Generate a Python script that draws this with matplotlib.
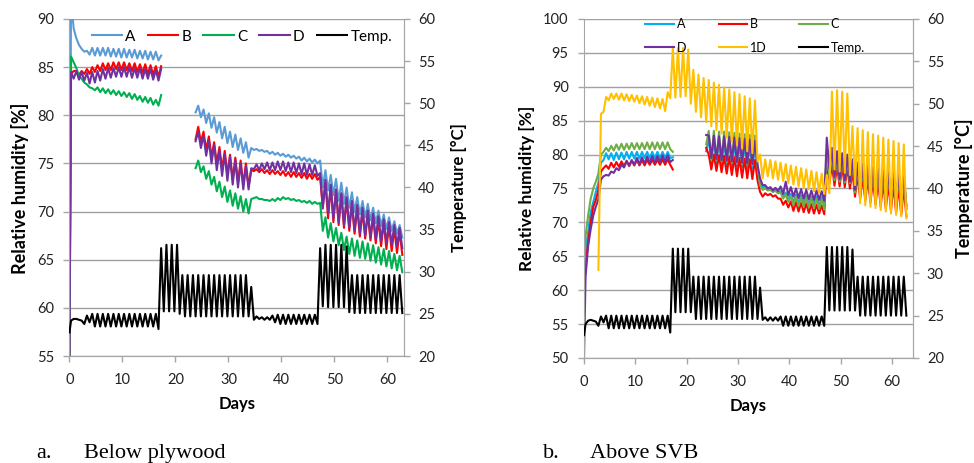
import numpy as np
import matplotlib.pyplot as plt

plt.rcParams['font.family'] = ['Lato', 'DejaVu Sans']

nan = np.nan
days = np.arange(63)   # daily max is plotted at day+0.3, daily min at day+0.8

# ---- a. Below plywood : relative humidity [%] (daily max / min) ----
la_hi = [92.0, 88.0, 86.9, 86.7, 87.0, 87.0, 87.0, 87.0, 86.9, 86.9,
         86.9, 86.8, 86.8, 86.7, 86.7, 86.6, 86.6, 86.2, nan, nan,
         nan, nan, nan, nan, 81.0, 80.6, 80.2, 79.8, 79.3, 78.8,
         78.3, 78.0, 77.6, 77.2, 76.6, 76.5, 76.4, 76.3, 76.2, 76.1,
         76.0, 75.9, 75.8, 75.7, 75.6, 75.5, 75.4, 75.3, 74.3, 73.8,
         73.4, 73.0, 72.5, 72.0, 71.5, 71.1, 70.8, 70.4, 70.1, 69.7,
         69.4, 69.0, 68.6]
la_lo = [89.0, 87.3, 86.6, 86.3, 86.2, 86.2, 86.2, 86.1, 86.1, 86.0,
         86.0, 86.0, 85.9, 85.9, 85.8, 85.8, 85.7, nan, nan, nan,
         nan, nan, nan, 80.3, 79.8, 79.2, 78.7, 78.2, 77.6, 77.1,
         76.7, 76.4, 76.1, 75.6, 76.4, 76.3, 76.2, 76.0, 75.9, 75.8,
         75.7, 75.6, 75.5, 75.3, 75.2, 75.1, 75.0, 72.5, 72.2, 71.7,
         71.1, 70.8, 70.4, 70.0, 69.7, 69.4, 69.1, 68.8, 68.5, 68.2,
         68.0, 67.7, 67.3]
lb_hi = [84.3, 84.6, 84.6, 84.8, 85.0, 85.2, 85.4, 85.4, 85.5, 85.5,
         85.5, 85.4, 85.4, 85.3, 85.3, 85.2, 85.1, 85.1, nan, nan,
         nan, nan, nan, nan, 78.8, 78.3, 77.8, 77.2, 76.7, 76.3,
         75.9, 75.6, 75.3, 75.0, 74.3, 74.4, 74.4, 74.3, 74.3, 74.2,
         74.2, 74.1, 74.1, 74.0, 74.0, 73.9, 73.9, 73.6, 73.0, 72.6,
         72.2, 71.8, 71.3, 70.8, 70.4, 70.1, 69.8, 69.5, 69.2, 68.9,
         68.6, 68.3, 68.0]
lb_lo = [84.6, 84.2, 84.3, 84.3, 84.5, 84.6, 84.7, 84.7, 84.8, 84.7,
         84.7, 84.6, 84.5, 84.4, 84.3, 84.2, 84.0, nan, nan, nan,
         nan, nan, nan, 77.5, 77.2, 76.4, 75.7, 75.0, 74.4, 73.8,
         73.3, 73.0, 72.8, 72.6, 74.2, 74.1, 74.0, 73.9, 73.9, 73.8,
         73.7, 73.6, 73.6, 73.5, 73.4, 73.4, 73.3, 70.5, 69.3, 68.9,
         68.6, 68.3, 68.0, 67.7, 67.4, 67.2, 67.0, 66.7, 66.4, 66.1,
         65.9, 65.7, 65.5]
lc_hi = [86.1, 84.9, 83.8, 83.2, 82.8, 82.9, 82.8, 82.7, 82.6, 82.5,
         82.4, 82.3, 82.2, 82.0, 81.9, 81.8, 81.6, 82.1, nan, nan,
         nan, nan, nan, nan, 75.3, 74.7, 74.2, 73.6, 73.1, 72.6,
         72.2, 71.9, 71.6, 71.3, 71.3, 71.5, 71.3, 71.2, 71.3, 71.4,
         71.5, 71.4, 71.3, 71.2, 71.1, 71.1, 71.0, 70.9, 69.4, 68.8,
         68.3, 67.8, 67.4, 67.2, 67.0, 66.9, 66.7, 66.5, 66.3, 66.1,
         65.9, 65.6, 65.4]
lc_lo = [85.5, 84.1, 83.4, 82.9, 82.6, 82.4, 82.3, 82.2, 82.1, 82.0,
         81.9, 81.7, 81.6, 81.4, 81.3, 81.1, 81.0, nan, nan, nan,
         nan, nan, nan, 74.5, 74.1, 73.4, 72.8, 72.1, 71.5, 71.0,
         70.6, 70.3, 70.0, 69.8, 71.4, 71.3, 71.2, 71.1, 71.1, 71.2,
         71.3, 71.2, 71.1, 71.0, 70.9, 70.8, 70.8, 68.0, 67.3, 66.9,
         66.5, 66.0, 65.6, 65.4, 65.2, 65.1, 64.9, 64.7, 64.5, 64.3,
         64.1, 63.9, 63.7]
ld_hi = [84.5, 84.6, 84.5, 84.4, 84.5, 84.6, 84.8, 84.9, 84.9, 85.0,
         85.0, 85.0, 84.9, 84.9, 84.8, 84.8, 84.7, 84.8, nan, nan,
         nan, nan, nan, nan, 78.3, 77.9, 77.4, 76.9, 76.4, 76.0,
         75.7, 75.3, 75.0, 74.7, 74.5, 74.9, 75.0, 75.1, 75.1, 75.2,
         75.2, 75.1, 75.1, 75.0, 75.0, 74.9, 74.8, 74.0, 73.3, 72.8,
         72.3, 71.9, 71.5, 71.1, 70.7, 70.4, 70.1, 69.8, 69.5, 69.2,
         68.9, 68.6, 68.3]
ld_lo = [83.8, 83.7, 83.6, 83.3, 83.4, 83.6, 83.8, 83.9, 84.0, 84.0,
         84.0, 83.9, 83.9, 83.8, 83.8, 83.7, 83.6, nan, nan, nan,
         nan, nan, nan, 77.3, 76.6, 75.8, 75.0, 74.3, 73.7, 73.2,
         72.8, 72.5, 72.3, 72.3, 74.4, 74.3, 74.4, 74.3, 74.3, 74.3,
         74.2, 74.1, 74.0, 73.9, 73.8, 73.8, 73.7, 70.3, 69.8, 69.3,
         68.9, 68.6, 68.3, 68.0, 67.7, 67.5, 67.3, 67.1, 66.9, 66.7,
         66.5, 66.4, 66.2]
# temperature [C]
lt_hi = ([24.2, 24.4, 24.2, 24.8] + [25.0] * 13 + [32.8, 33.2, 33.2, 33.2]
         + [29.6] * 13 + [28.2] + [24.7, 24.6, 24.6, 24.8] + [24.9] * 8
         + [32.8] + [33.2] * 4 + [33.0] + [29.6] * 10)
lt_lo = ([24.4, 24.3, 23.8, 24.0] + [23.5] * 12 + [23.2] + [25.3, 25.3, 25.3, 25.0]
         + [24.7] * 13 + [24.3] + [24.4, 24.3, 24.3, 24.0] + [23.8] * 8
         + [25.9] + [25.8] * 4 + [25.2] + [25.1] * 10)
left_start = {'A': 55.0, 'B': 55.0, 'C': 55.0, 'D': 55.0, 'Temp.': 22.8}

# ---- b. Above SVB ----
ra_hi = [66.0, 71.5, 74.5, 78.8, 80.2, 80.2, 80.3, 80.3, 80.4, 80.4,
         80.4, 80.4, 80.4, 80.4, 80.4, 80.4, 80.4, 79.6, nan, nan,
         nan, nan, nan, nan, 82.3, 82.2, 82.1, 82.0, 81.9, 81.8,
         81.7, 81.6, 81.5, 81.3, 76.0, 75.3, 74.9, 74.7, 74.6, 74.4,
         74.2, 74.1, 74.0, 73.9, 73.8, 73.8, 73.7, 80.5, 80.0, 79.8,
         79.6, 79.5, 79.0, 78.5, 78.3, 78.1, 77.9, 77.8, 77.6, 77.5,
         77.3, 77.2, 77.0]
ra_lo = [68.5, 73.0, 75.8, 79.2, 79.3, 79.2, 79.3, 79.3, 79.4, 79.4,
         79.4, 79.5, 79.5, 79.5, 79.5, 79.5, 79.5, nan, nan, nan,
         nan, nan, nan, 80.5, 78.8, 78.6, 78.5, 78.4, 78.3, 78.2,
         78.1, 78.0, 77.9, 77.7, 75.2, 74.9, 74.5, 74.3, 73.8, 73.3,
         72.9, 72.8, 72.7, 72.6, 72.5, 72.4, 72.3, 77.0, 76.2, 76.0,
         75.9, 75.8, 74.5, 73.9, 73.6, 73.4, 73.2, 73.0, 72.8, 72.6,
         72.4, 72.2, 72.0]
rb_hi = [64.0, 70.0, 73.3, 77.5, 78.4, 78.8, 78.9, 79.0, 79.1, 79.1,
         79.2, 79.2, 79.2, 79.2, 79.2, 79.3, 79.3, 77.8, nan, nan,
         nan, nan, nan, nan, 80.0, 80.0, 79.9, 79.8, 79.7, 79.6,
         79.5, 79.4, 79.3, 79.2, 74.5, 74.3, 74.2, 74.0, 73.5, 73.2,
         73.1, 73.0, 72.9, 72.8, 72.7, 72.6, 72.5, 79.0, 78.6, 78.4,
         78.3, 78.2, 77.5, 77.0, 76.8, 76.6, 76.4, 76.2, 76.0, 75.8,
         75.6, 75.4, 75.2]
rb_lo = [67.0, 72.3, 74.8, 78.0, 77.9, 78.1, 78.2, 78.3, 78.3, 78.4,
         78.4, 78.4, 78.5, 78.5, 78.5, 78.5, 78.5, nan, nan, nan,
         nan, nan, nan, 81.0, 77.8, 77.6, 77.4, 77.2, 77.0, 76.8,
         76.6, 76.5, 76.4, 76.2, 73.8, 74.0, 73.8, 73.5, 72.6, 72.2,
         71.7, 71.6, 71.5, 71.4, 71.3, 71.3, 71.2, 75.7, 75.4, 75.3,
         75.2, 75.0, 73.8, 73.5, 73.2, 72.9, 72.6, 72.3, 72.0, 71.7,
         71.4, 71.1, 70.9]
rc_hi = [68.0, 73.5, 76.0, 80.0, 81.0, 81.3, 81.5, 81.6, 81.6, 81.7,
         81.7, 81.7, 81.8, 81.8, 81.8, 81.8, 81.8, 80.4, nan, nan,
         nan, nan, nan, nan, 83.5, 83.5, 83.4, 83.4, 83.3, 83.2,
         83.1, 83.0, 82.9, 82.8, 75.5, 75.0, 74.8, 74.7, 74.4, 74.1,
         73.9, 73.8, 73.7, 73.7, 73.6, 73.5, 73.4, 80.3, 79.9, 79.7,
         79.5, 79.4, 78.8, 78.3, 78.1, 77.9, 77.7, 77.5, 77.3, 77.1,
         76.9, 76.7, 76.5]
rc_lo = [71.0, 75.0, 77.2, 80.4, 80.5, 80.6, 80.7, 80.7, 80.8, 80.8,
         80.8, 80.8, 80.8, 80.8, 80.8, 80.8, 80.8, nan, nan, nan,
         nan, nan, nan, 81.5, 79.2, 79.1, 79.0, 78.9, 78.8, 78.7,
         78.6, 78.5, 78.4, 78.2, 74.8, 74.7, 74.5, 74.3, 73.5, 73.0,
         72.5, 72.4, 72.3, 72.2, 72.1, 72.0, 71.9, 76.8, 76.2, 76.0,
         75.9, 75.8, 74.4, 74.0, 73.7, 73.5, 73.3, 73.1, 72.9, 72.7,
         72.5, 72.3, 72.0]
rd_hi = [62.0, 69.0, 72.3, 76.3, 77.0, 77.5, 78.0, 78.5, 79.0, 79.2,
         79.5, 79.6, 79.7, 79.8, 79.8, 79.9, 79.9, 79.2, nan, nan,
         nan, nan, nan, nan, 82.8, 82.8, 82.7, 82.7, 82.6, 82.5,
         82.4, 82.3, 82.2, 82.0, 76.5, 75.5, 75.2, 75.1, 75.3, 76.0,
         75.2, 75.0, 74.9, 74.8, 74.7, 74.7, 74.6, 82.5, 81.0, 80.5,
         80.2, 80.0, 79.3, 78.8, 78.6, 78.4, 78.2, 78.0, 77.8, 77.6,
         77.4, 77.2, 77.0]
rd_lo = [66.5, 71.0, 73.4, 76.8, 76.9, 77.3, 77.7, 78.1, 78.4, 78.5,
         78.6, 78.7, 78.8, 78.8, 78.9, 78.9, 78.9, nan, nan, nan,
         nan, nan, nan, 82.9, 79.5, 79.3, 79.2, 79.1, 79.0, 78.9,
         78.8, 78.7, 78.6, 78.5, 75.5, 75.0, 74.7, 74.6, 74.2, 74.0,
         73.8, 73.6, 73.5, 73.4, 73.3, 73.3, 73.2, 78.0, 76.7, 76.4,
         76.2, 76.0, 74.8, 74.4, 74.1, 73.9, 73.7, 73.5, 73.3, 73.1,
         72.9, 72.7, 72.5]
r1d_hi = [nan, nan, nan, 86.0, 88.5, 89.0, 89.0, 89.0, 88.9, 88.8,
          88.7, 88.6, 88.5, 88.4, 88.3, 88.2, 89.2, 95.7, 95.7, 95.7,
          95.5, 92.5, 91.8, 91.3, 91.0, 90.6, 90.3, 89.9, 89.6, 89.2,
          88.9, 88.6, 88.3, 88.0, 80.0, 79.3, 79.2, 79.0, 78.8, 78.6,
          78.4, 78.2, 78.0, 77.8, 77.6, 77.4, 77.2, 77.0, 89.3, 89.5,
          89.3, 89.0, 84.2, 83.9, 83.6, 83.3, 83.0, 82.8, 82.5, 82.2,
          82.0, 81.7, 81.5]
r1d_lo = [nan, nan, 63.0, 86.3, 88.0, 88.2, 88.1, 88.0, 87.9, 87.8,
          87.6, 87.4, 87.2, 87.0, 86.8, 86.4, 88.3, 88.4, 88.5, 88.6,
          87.5, 86.3, 85.5, 84.8, 84.2, 83.6, 83.1, 82.5, 81.9, 81.4,
          80.9, 80.5, 80.2, 79.0, 76.5, 76.8, 76.5, 76.3, 76.1, 75.8,
          75.6, 75.3, 75.1, 74.9, 74.6, 74.4, 74.2, 74.3, 77.8, 77.5,
          77.3, 77.0, 75.5, 72.8, 72.5, 72.3, 72.1, 71.8, 71.6, 71.3,
          71.1, 70.9, 70.6]
rt_hi = ([24.0, 24.5, 24.3, 24.9] + [25.0] * 13 + [32.9] * 4 + [29.6] * 13
         + [28.3] + [24.8] * 3 + [24.9] * 9 + [33.1] * 5 + [32.8] + [29.6] * 10)
rt_lo = ([24.4, 24.4, 23.8, 24.2] + [23.5] * 12 + [23.0] + [25.4] * 4 + [24.6] * 13
         + [24.5] + [24.4] * 3 + [23.8] * 9 + [25.6] * 6 + [25.0] * 10)
right_start = {'A': 60.0, 'B': 58.0, 'C': 62.0, 'D': 50.0, '1D': nan, 'Temp.': 22.7}


def trace(start, hi, lo):
    t = np.column_stack([days + 0.3, days + 0.8]).ravel()
    v = np.column_stack([hi, lo]).ravel()
    return np.r_[0.0, t], np.r_[start, v]


GRAY = '#a6a6a6'


def style(ax, ax2, ymin, ymax, xmax):
    ax.set_ylim(ymin, ymax)
    ax.set_yticks(np.arange(ymin, ymax + 1, 5))
    ax2.set_ylim(20, 60)
    ax2.set_yticks(np.arange(20, 61, 5))
    ax.set_xlim(0, xmax)
    ax.set_xticks(np.arange(0, 61, 10))
    ax.grid(axis='y', color='#a0a0a0', lw=1)
    ax.set_axisbelow(True)
    for a in (ax, ax2):
        for s in a.spines.values():
            s.set_color(GRAY)
        a.spines['top'].set_visible(False)
        a.tick_params(colors=GRAY, labelcolor='#222222', labelsize=10.5,
                      length=4, width=1)
    ax.tick_params(axis='x', pad=8)
    ax.tick_params(axis='y', pad=7)
    ax2.tick_params(axis='y', pad=6)
    ax2.spines['left'].set_visible(False)
    ax.set_xlabel('Days', fontsize=12, fontweight='bold', labelpad=7)


fig = plt.figure(figsize=(9.74, 4.63), dpi=100)

# ---------- panel a ----------
ax = fig.add_axes([0.0713, 0.2311, 0.3439, 0.7279])
ax2 = ax.twinx()
left_rh = [('A', la_hi, la_lo, '#5b9bd5'), ('B', lb_hi, lb_lo, '#ff0000'),
           ('C', lc_hi, lc_lo, '#00b050'), ('D', ld_hi, ld_lo, '#7030a0')]
for name, hi, lo, c in left_rh:
    x, y = trace(left_start[name], hi, lo)
    ax.plot(x, y, color=c, lw=1.5, label=name)
x, y = trace(left_start['Temp.'], lt_hi, lt_lo)
ax2.plot(x, y, color='black', lw=1.5, label='Temp.')
style(ax, ax2, 55, 90, 63.2)
h1, l1 = ax.get_legend_handles_labels()
h2, l2 = ax2.get_legend_handles_labels()
ax2.legend(h1 + h2, l1 + l2, ncol=5, loc='center', bbox_to_anchor=(0.515, 0.947),
           frameon=False, fontsize=11, handlelength=2.0, handletextpad=0.2,
           columnspacing=0.8)

# ---------- panel b ----------
bx = fig.add_axes([0.5996, 0.2268, 0.3378, 0.7322])
bx2 = bx.twinx()
right_rh = [('A', ra_hi, ra_lo, '#00b0f0'), ('B', rb_hi, rb_lo, '#ff0000'),
            ('C', rc_hi, rc_lo, '#70ad47'), ('D', rd_hi, rd_lo, '#7030a0'),
            ('1D', r1d_hi, r1d_lo, '#ffc000')]
for name, hi, lo, c in right_rh:
    x, y = trace(right_start[name], hi, lo)
    bx.plot(x, y, color=c, lw=1.5, label=name)
x, y = trace(right_start['Temp.'], rt_hi, rt_lo)
bx2.plot(x, y, color='black', lw=1.5, label='Temp.')
style(bx, bx2, 50, 100, 64.1)
h1, l1 = bx.get_legend_handles_labels()
h2, l2 = bx2.get_legend_handles_labels()
hs, ls = h1 + h2, l1 + l2
order = [0, 3, 1, 4, 2, 5]   # legend fills by column: rows A B C / D 1D Temp.
bx2.legend([hs[i] for i in order], [ls[i] for i in order], ncol=3, loc='center',
           bbox_to_anchor=(0.52, 0.95), frameon=False, fontsize=9,
           handlelength=2.3, handletextpad=0.2, columnspacing=2.6, labelspacing=0.9)

# axis titles
fig.text(20 / 974, 1 - 188 / 463, 'Relative humidity [%]', rotation=90,
         ha='center', va='center', fontsize=13, fontweight='bold')
fig.text(459 / 974, 1 - 188 / 463, 'Temperature [°C]', rotation=90,
         ha='center', va='center', fontsize=12, fontweight='bold')
fig.text(527 / 974, 1 - 188 / 463, 'Relative humidity [%]', rotation=90,
         ha='center', va='center', fontsize=12.5, fontweight='bold')
fig.text(964 / 974, 1 - 188 / 463, 'Temperature [°C]', rotation=90,
         ha='center', va='center', fontsize=13, fontweight='bold')

# captions
for xa, xb, txt_a, txt_b in [(36, 84, 'a.', 'Below plywood'), (543, 590, 'b.', 'Above SVB')]:
    fig.text(xa / 974, 1 - 458 / 463, txt_a, family='Liberation Serif', fontsize=16,
             va='baseline')
    fig.text(xb / 974, 1 - 458 / 463, txt_b, family='Liberation Serif', fontsize=16,
             va='baseline')

fig.savefig('out.png', dpi=100)
